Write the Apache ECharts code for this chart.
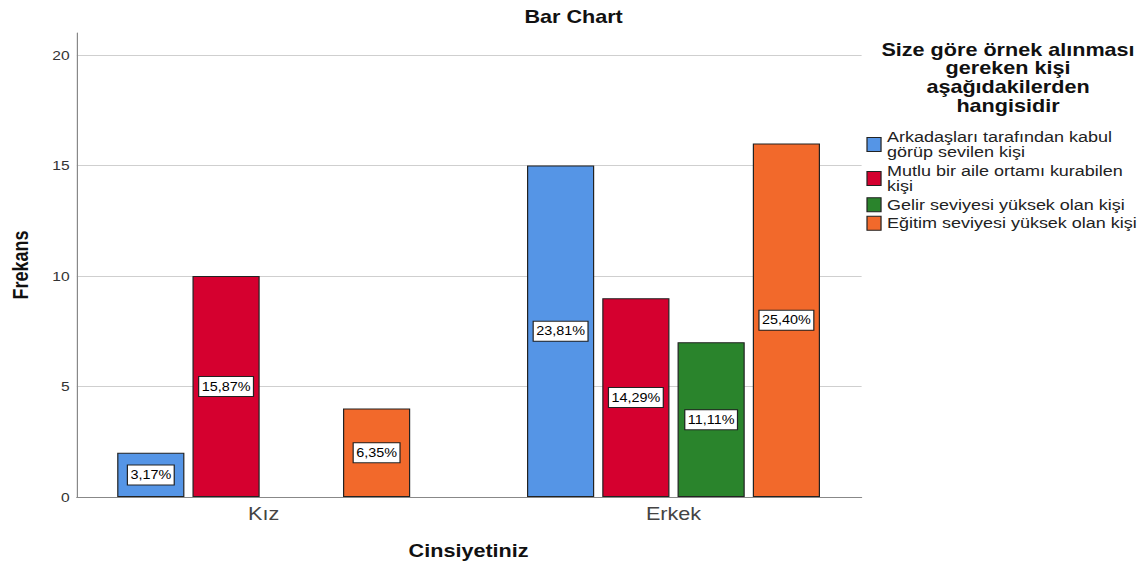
<!DOCTYPE html>
<html>
<head>
<meta charset="utf-8">
<title>Bar Chart</title>
<script src="https://cdn.jsdelivr.net/npm/echarts@6/dist/echarts.min.js"></script>
<style>
    html, body { margin: 0; padding: 0; background: #fff; overflow: hidden; }
    /* the original export is stretched sideways, so the chart is drawn narrower and widened */
    #main { width: 956px; height: 565px; transform: scaleX(1.2); transform-origin: 0 0; }
</style>
</head>
<body>
<div id="main"></div>
<script>
// data
var categories = ['Kız', 'Erkek']
var seriesNames = [
    'Arkadaşları tarafından kabul görüp sevilen kişi',
    'Mutlu bir aile ortamı kurabilen kişi',
    'Gelir seviyesi yüksek olan kişi',
    'Eğitim seviyesi yüksek olan kişi'
]
var legendLabels = [
    'Arkadaşları tarafından kabul\ngörüp sevilen kişi',
    'Mutlu bir aile ortamı kurabilen\nkişi',
    'Gelir seviyesi yüksek olan kişi',
    'Eğitim seviyesi yüksek olan kişi'
]
var arkadas = [2, 15]
var mutlu = [10, 9]
var gelir = ['-', 7]
var egitim = [4, 16]
var arkadasPct = ['3,17%', '23,81%']
var mutluPct = ['15,87%', '14,29%']
var gelirPct = ['', '11,11%']
var egitimPct = ['6,35%', '25,40%']
var yTicks = [0, 5, 10, 15, 20]

var colors = ['#5595E6', '#D5002F', '#2A842C', '#F2692B']
var values = [arkadas, mutlu, gelir, egitim]
var pcts = [arkadasPct, mutluPct, gelirPct, egitimPct]
var font = 'Liberation Sans, Arial, sans-serif'

var myChart = echarts.init(document.getElementById('main'), null, { renderer: 'svg' })

var series = seriesNames.map(function (name, i) {
    return {
        name: name,
        type: 'bar',
        xAxisIndex: 1,
        yAxisIndex: 1,
        data: values[i],
        barWidth: 56,
        barGap: '12%',
        itemStyle: {
            color: colors[i],
            borderColor: '#222',
            borderWidth: 1
        },
        label: {
            show: true,
            position: 'inside',
            formatter: function (p) {
                return pcts[i][p.dataIndex]
            },
            color: '#000',
            fontSize: 12,
            lineHeight: 14,
            backgroundColor: '#fff',
            borderColor: '#222',
            borderWidth: 1,
            padding: [3, 2, 2, 2]
        },
        emphasis: { disabled: true }
    }
})

var option = {
    animation: false,
    textStyle: { fontFamily: font },
    title: [
        {
            text: 'Bar Chart',
            left: 473,
            top: 3,
            textAlign: 'center',
            textStyle: { fontSize: 18, fontWeight: 'bold', color: '#111' }
        },
        {
            text: 'Size göre örnek alınması\ngereken kişi\naşağıdakilerden\nhangisidir',
            left: 835,
            top: 35,
            textAlign: 'center',
            textStyle: { fontSize: 18, fontWeight: 'bold', color: '#111', lineHeight: 18.7 }
        }
    ],
    legend: {
        orient: 'vertical',
        left: 717,
        top: 124,
        itemWidth: 11.7,
        itemHeight: 14,
        itemGap: 3,
        icon: 'rect',
        data: seriesNames,
        formatter: function (name) {
            return legendLabels[seriesNames.indexOf(name)]
        },
        textStyle: { fontSize: 15, lineHeight: 15.5, color: '#222' },
        itemStyle: { borderColor: '#222', borderWidth: 1 }
    },
    // grid 0 carries the frame and gridlines, grid 1 the bars (wider, as in the original)
    grid: [
        { left: 61, right: 238, top: 33, bottom: 68 },
        { left: 49, right: 224, top: 33, bottom: 68 }
    ],
    xAxis: [
        {
            type: 'category',
            gridIndex: 0,
            data: categories,
            axisLine: { lineStyle: { color: '#888' } },
            axisTick: { show: false },
            axisLabel: { show: false }
        },
        {
            type: 'category',
            gridIndex: 1,
            data: categories,
            name: 'Cinsiyetiniz',
            nameLocation: 'middle',
            nameGap: 45,
            nameTextStyle: { fontSize: 18, fontWeight: 'bold', color: '#111' },
            axisLine: { show: false },
            axisTick: { show: false },
            axisLabel: { fontSize: 18, color: '#444', margin: 8 }
        }
    ],
    yAxis: [
        {
            type: 'value',
            gridIndex: 0,
            min: 0,
            max: 21,
            interval: 5,
            name: 'Frekans',
            nameLocation: 'middle',
            nameGap: 38,
            nameTextStyle: { fontSize: 18, fontWeight: 'bold', color: '#111' },
            axisLine: { show: true, lineStyle: { color: '#888' } },
            axisTick: { show: false },
            axisLabel: {
                fontSize: 13,
                color: '#333',
                margin: 6,
                formatter: function (v) {
                    return yTicks.indexOf(v) >= 0 ? v : ''
                }
            },
            splitLine: { show: true, showMaxLine: false, lineStyle: { color: '#cfcfcf' } }
        },
        {
            type: 'value',
            gridIndex: 1,
            min: 0,
            max: 21,
            show: false
        }
    ],
    series: series
}

myChart.setOption(option)
</script>
</body>
</html>
